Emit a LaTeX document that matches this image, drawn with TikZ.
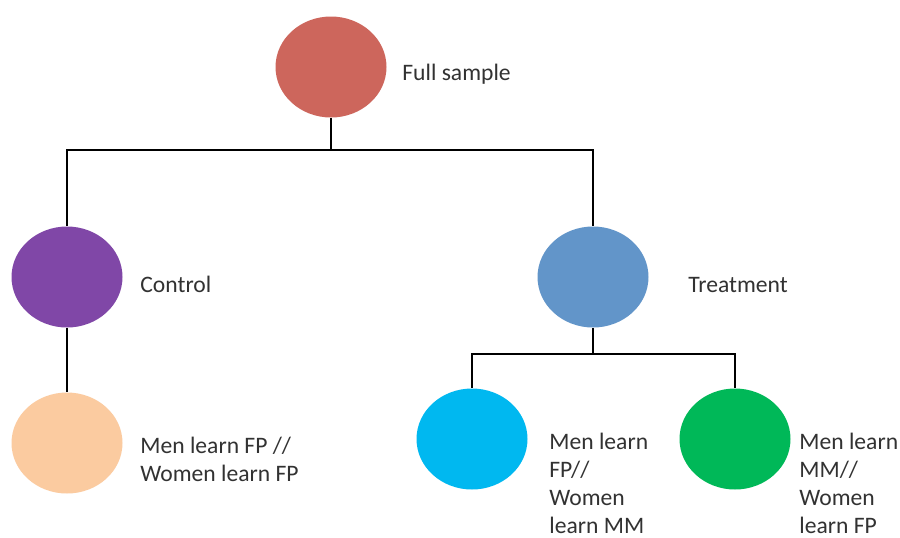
\documentclass[tikz,border=0pt]{standalone}
\usepackage{fontspec}
\setmainfont{Carlito}
\usetikzlibrary{shapes.geometric}
\definecolor{grpfull}  {RGB}{205,102,92}
\definecolor{grpctrl}  {RGB}{128,71,167}
\definecolor{grptreat} {RGB}{98,149,201}
\definecolor{grpff}    {RGB}{251,203,160}
\definecolor{grpfm}    {RGB}{0,184,240}
\definecolor{grpmf}    {RGB}{0,184,88}
\definecolor{labeltext}{RGB}{50,50,50}

\tikzset{
  group/.style={ellipse, draw=none, inner sep=0pt,
                minimum width=55.5pt, minimum height=50.5pt},
  grouplabel/.style={anchor=base west, inner sep=0pt, align=left,
                     text=labeltext,
                     font=\fontsize{11.8}{14}\selectfont},
  branch/.style={draw=black, line width=1pt}
}

\begin{document}
\begin{tikzpicture}[x=0.5pt, y=-0.5pt]
            \useasboundingbox [fill=white] (0,0) rectangle (900,537);

            % full sample
            \node (full) [group, fill=grpfull] at (331,67) {};
            \node (fulltxt) [grouplabel] at (402,80) {Full sample};

            % arms
            \node (ctrl) [group, fill=grpctrl] at (67,277) {};
            \node (ctrltxt) [grouplabel] at (140,292) {Control};
            \node (treat) [group, fill=grptreat] at (593,277) {};
            \node (treattxt) [grouplabel] at (688,292) {Treatment};

            % subgroups (label base = last line)
            \node (ff) [group, fill=grpff] at (67,443) {};
            \node (fftxt) [grouplabel] at (140,481)
              {Men learn FP //\\Women learn FP};
            \node (fm) [group, fill=grpfm] at (472,439) {};
            \node (fmtxt) [grouplabel] at (549,533)
              {Men learn\\FP//\\Women\\learn MM};
            \node (mf) [group, fill=grpmf] at (735,439) {};
            \node (mftxt) [grouplabel] at (799,533)
              {Men learn\\MM//\\Women\\learn FP};

            % forks
            \coordinate (split) at (331,150);
            \coordinate (tsplit) at (593,354);

            % edges
            \draw [branch] (full) -- (split);
            \draw [branch] (ctrl.north) |- (split) -| (treat.north);
            \draw [branch] (ctrl) -- (ff);
            \draw [branch] (treat) -- (tsplit);
            \draw [branch] (fm.north) |- (tsplit) -| (mf.north);
\end{tikzpicture}
\end{document}
